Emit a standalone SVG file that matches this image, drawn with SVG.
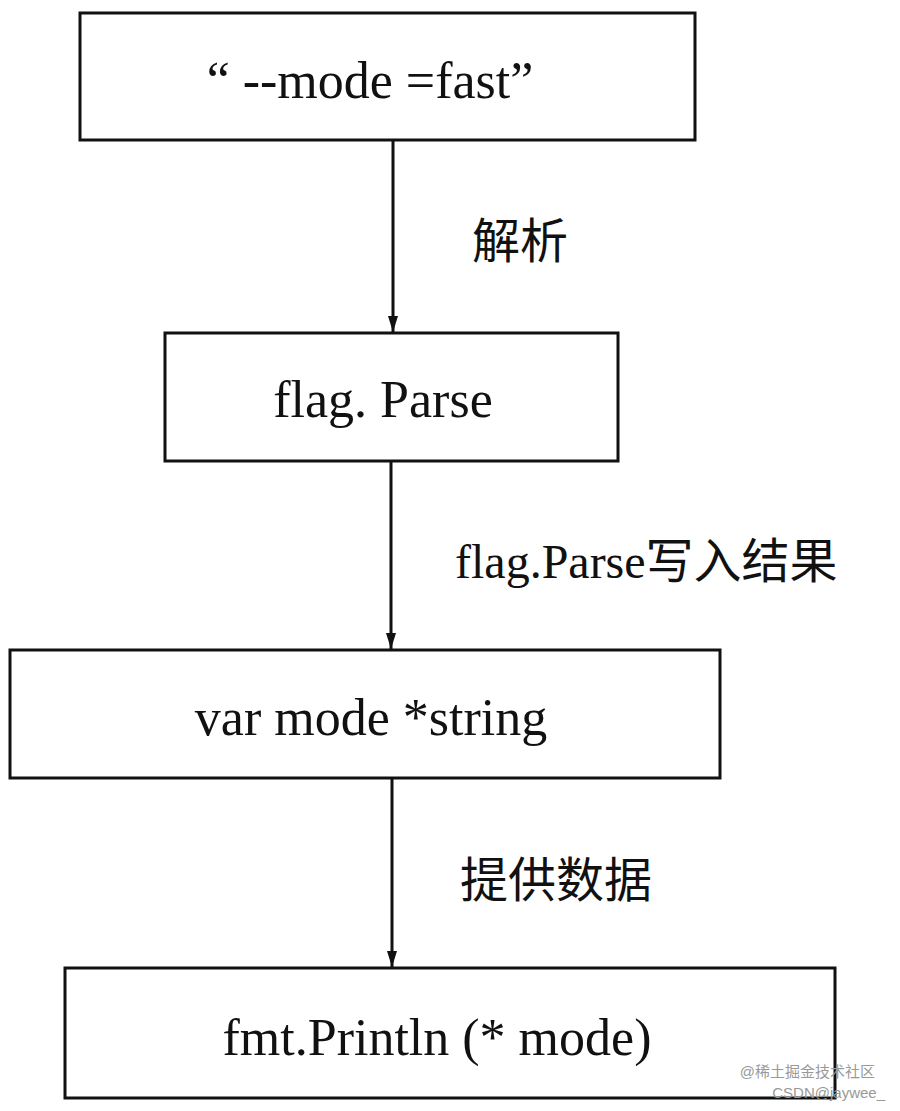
<svg xmlns="http://www.w3.org/2000/svg" width="900" height="1111" viewBox="0 0 900 1111">
<style>
.box{fill:#fff;stroke:#111;stroke-width:3}
.t{font-family:"Liberation Serif","Noto Sans CJK SC",serif;font-size:52px;fill:#111;text-anchor:middle}
.l{font-family:"Liberation Serif","Noto Sans CJK SC",serif;font-size:48px;fill:#111}
.c{stroke:#111;stroke-width:3;fill:none}
.w{font-family:"Liberation Sans","Noto Sans CJK SC",sans-serif;font-size:15px;fill:#999;text-anchor:end}
</style>
<defs><marker id="a" markerWidth="16" markerHeight="10" refX="16" refY="5" orient="auto" markerUnits="userSpaceOnUse" viewBox="0 0 16 10"><path d="M0,0 L16,5 L0,10 Z" fill="#111"/></marker></defs>
<rect width="900" height="1111" fill="#fff"/>
<g id="connectors">
<line class="c" x1="393" y1="140" x2="393" y2="332" marker-end="url(#a)"/>
<line class="c" x1="391" y1="461" x2="391" y2="649" marker-end="url(#a)"/>
<line class="c" x1="392" y1="778" x2="392" y2="967" marker-end="url(#a)"/>
<text class="l" x="472" y="258">解析</text>
<text class="l" x="455" y="578">flag.Parse写入结果</text>
<text class="l" x="460" y="897">提供数据</text>
</g>
<g id="n1"><rect class="box" x="80" y="13" width="615" height="127"/><text class="t" x="370" y="98">“ --mode =fast”</text></g>
<g id="n2"><rect class="box" x="165" y="333" width="453" height="128"/><text class="t" x="383" y="417">flag. Parse</text></g>
<g id="n3"><rect class="box" x="10" y="650" width="710" height="128"/><text class="t" x="371" y="735">var mode *string</text></g>
<g id="n4"><rect class="box" x="65" y="968" width="770" height="130"/><text class="t" x="437" y="1055">fmt.Println (* mode)</text></g>
<text class="w" x="875" y="1077">@稀土掘金技术社区</text>
<text class="w" x="885" y="1098">CSDN@jaywee_</text>
</svg>
